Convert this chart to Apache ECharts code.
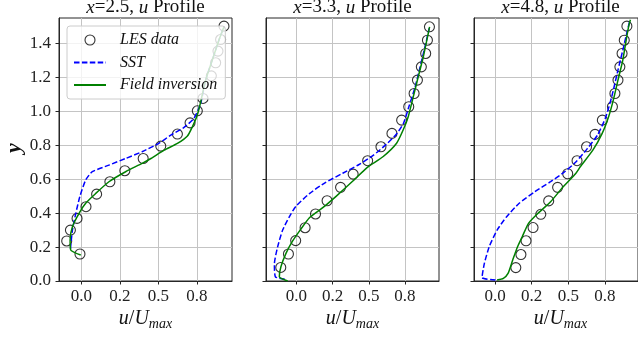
<!DOCTYPE html>
<html><head><meta charset="utf-8">
<script src="https://cdn.jsdelivr.net/npm/echarts@6/dist/echarts.min.js"></script>
<style>html,body{margin:0;padding:0;background:#fff}#c{width:638px;height:341px}</style>
</head><body><div id="c"></div><script>
// ---- tick labels / titles ----
const panelTitles = ['2.5', '3.3', '4.8'];
const xTickValues = [0, 0.25, 0.5, 0.75];
const xTickLabels = ['0.0', '0.2', '0.5', '0.8'];
const yTickValues = [0, 0.2, 0.4, 0.6, 0.8, 1.0, 1.2, 1.4];
const yTickLabels = ['0.0', '0.2', '0.4', '0.6', '0.8', '1.0', '1.2', '1.4'];
const seriesNames = ['LES data', 'SST', 'Field inversion'];

// ---- panel 1 : x = 2.5 ----
const les1X = [0.925, 0.903, 0.886, 0.871, 0.843, 0.789, 0.752, 0.705, 0.623, 0.515, 0.401, 0.282, 0.185, 0.099, 0.030, -0.028, -0.071, -0.095, -0.009];
const les1Y = [1.502, 1.423, 1.355, 1.286, 1.209, 1.076, 1.003, 0.932, 0.866, 0.795, 0.722, 0.650, 0.585, 0.512, 0.438, 0.369, 0.300, 0.236, 0.159];
const sst1X = [-0.070, -0.069, -0.058, -0.036, -0.010, 0.028, 0.071, 0.179, 0.287, 0.394, 0.502, 0.580, 0.666, 0.731, 0.774, 0.806, 0.849, 0.892, 0.925];
const sst1Y = [0.190, 0.206, 0.300, 0.399, 0.497, 0.595, 0.644, 0.683, 0.722, 0.762, 0.811, 0.860, 0.905, 0.960, 1.047, 1.184, 1.302, 1.419, 1.498];
const fi1X = [-0.004, -0.069, -0.073, -0.058, -0.015, 0.028, 0.093, 0.179, 0.287, 0.394, 0.451, 0.537, 0.623, 0.688, 0.720, 0.752, 0.774, 0.806, 0.849, 0.892, 0.925];
const fi1Y = [0.153, 0.183, 0.241, 0.320, 0.399, 0.458, 0.516, 0.585, 0.644, 0.693, 0.722, 0.771, 0.811, 0.855, 0.909, 0.978, 1.056, 1.184, 1.302, 1.419, 1.498];

// ---- panel 2 : x = 3.3 ----
const les2X = [0.919, 0.905, 0.893, 0.863, 0.836, 0.813, 0.776, 0.727, 0.660, 0.584, 0.492, 0.392, 0.305, 0.212, 0.132, 0.060, -0.005, -0.055, -0.108];
const les2Y = [1.498, 1.419, 1.341, 1.262, 1.184, 1.105, 1.027, 0.948, 0.870, 0.791, 0.709, 0.630, 0.552, 0.473, 0.395, 0.314, 0.238, 0.159, 0.080];
const sst2X = [-0.080, -0.145, -0.152, -0.130, -0.095, -0.048, -0.003, 0.090, 0.200, 0.320, 0.430, 0.530, 0.620, 0.690, 0.740, 0.778, 0.819, 0.854, 0.888, 0.918];
const sst2Y = [0.010, 0.025, 0.100, 0.200, 0.300, 0.380, 0.440, 0.515, 0.580, 0.635, 0.685, 0.740, 0.805, 0.865, 0.930, 1.030, 1.140, 1.260, 1.380, 1.490];
const fi2X = [-0.060, -0.118, -0.107, -0.072, -0.026, 0.021, 0.090, 0.182, 0.274, 0.390, 0.490, 0.600, 0.692, 0.738, 0.773, 0.808, 0.842, 0.877, 0.911, 0.920];
const fi2Y = [0.000, 0.025, 0.084, 0.163, 0.236, 0.294, 0.373, 0.432, 0.499, 0.589, 0.670, 0.734, 0.812, 0.891, 0.970, 1.088, 1.205, 1.323, 1.460, 1.498];

// ---- panel 3 : x = 4.8 ----
const les3X = [0.901, 0.883, 0.868, 0.853, 0.840, 0.819, 0.802, 0.733, 0.683, 0.625, 0.560, 0.496, 0.427, 0.366, 0.312, 0.259, 0.211, 0.176, 0.141];
const les3Y = [1.502, 1.419, 1.341, 1.262, 1.184, 1.105, 1.027, 0.948, 0.864, 0.791, 0.709, 0.632, 0.552, 0.472, 0.393, 0.315, 0.237, 0.156, 0.079];
const sst3X = [0.002, -0.090, -0.074, -0.041, 0.013, 0.078, 0.164, 0.271, 0.379, 0.470, 0.550, 0.630, 0.700, 0.754, 0.797, 0.840, 0.873, 0.905, 0.920];
const sst3Y = [0.006, 0.020, 0.104, 0.202, 0.300, 0.379, 0.458, 0.526, 0.585, 0.640, 0.700, 0.780, 0.860, 0.960, 1.085, 1.243, 1.360, 1.478, 1.530];
const fi3X = [0.013, 0.056, 0.088, 0.120, 0.153, 0.185, 0.228, 0.293, 0.379, 0.465, 0.551, 0.582, 0.668, 0.732, 0.776, 0.808, 0.840, 0.873, 0.900, 0.915, 0.925];
const fi3Y = [0.006, 0.016, 0.045, 0.124, 0.202, 0.261, 0.340, 0.399, 0.467, 0.555, 0.634, 0.673, 0.771, 0.870, 0.968, 1.066, 1.184, 1.302, 1.439, 1.508, 1.540];

// ---- axis ranges ----
const xMins = [-0.145, -0.21, -0.145];
const xMaxs = [0.977, 0.985, 0.977];
const yMin = 0, yMax = 1.55;

const panels = [
  {les: [les1X, les1Y], sst: [sst1X, sst1Y], fi: [fi1X, fi1Y]},
  {les: [les2X, les2Y], sst: [sst2X, sst2Y], fi: [fi2X, fi2Y]},
  {les: [les3X, les3Y], sst: [sst3X, sst3Y], fi: [fi3X, fi3Y]}
];
const pair = (xs, ys) => xs.map((x, k) => [x, ys[k]]);

const FONT = 'Liberation Serif';
const gridLefts = [59, 266, 474];
const gridW = 173, gridTop = 18, gridH = 263;

const grids = [], xAxes = [], yAxes = [], series = [], graphics = [];
gridLefts.forEach((L, i) => {
  grids.push({left: L, top: gridTop, width: gridW, height: gridH, show: true,
    borderColor: '#262626', borderWidth: 1, backgroundColor: 'transparent'});
  xAxes.push({type: 'value', gridIndex: i, min: xMins[i], max: xMaxs[i],
    axisLine: {show: true, onZero: false, lineStyle: {color: '#262626', width: 1}},
    axisTick: {show: true, length: 3.5, customValues: xTickValues, lineStyle: {color: '#262626'}},
    axisLabel: {customValues: xTickValues, margin: 7, fontFamily: FONT, fontSize: 17, color: '#222',
      formatter: v => { const k = xTickValues.findIndex(t => Math.abs(t - v) < 1e-6); return k >= 0 ? xTickLabels[k] : ''; }},
    splitLine: {show: true, lineStyle: {color: '#c4c4c4', width: 1}}
  });
  yAxes.push({type: 'value', gridIndex: i, min: yMin, max: yMax,
    axisLine: {show: true, onZero: false, lineStyle: {color: '#262626', width: 1}},
    axisTick: {show: true, length: 3.5, customValues: yTickValues, lineStyle: {color: '#262626'}},
    axisLabel: {show: i === 0, customValues: yTickValues, margin: 8, fontFamily: FONT, fontSize: 17, color: '#222',
      formatter: v => { const k = yTickValues.findIndex(t => Math.abs(t - v) < 1e-6); return k >= 0 ? yTickLabels[k] : ''; }},
    splitLine: {show: true, lineStyle: {color: '#c4c4c4', width: 1}}
  });
  const p = panels[i];
  series.push({name: seriesNames[0], type: 'scatter', xAxisIndex: i, yAxisIndex: i,
    data: pair(p.les[0], p.les[1]), symbol: 'circle', symbolSize: 10,
    itemStyle: {color: 'rgba(0,0,0,0)', borderColor: '#000', borderWidth: 1.1}, z: 3});
  series.push({name: seriesNames[1], type: 'line', xAxisIndex: i, yAxisIndex: i,
    data: pair(p.sst[0], p.sst[1]), symbol: 'none', showSymbol: false, smooth: 0.2,
    lineStyle: {color: '#0000ff', width: 1.5, type: [5.5, 2.4]}, itemStyle: {color: '#0000ff'}, z: 4});
  series.push({name: seriesNames[2], type: 'line', xAxisIndex: i, yAxisIndex: i,
    data: pair(p.fi[0], p.fi[1]), symbol: 'none', showSymbol: false, smooth: 0.2,
    lineStyle: {color: '#008000', width: 1.5}, itemStyle: {color: '#008000'}, z: 5});

  const cx = L + gridW / 2;
  graphics.push({type: 'text', x: cx, y: 17, style: {
    text: '{i|x}{n|=' + panelTitles[i] + ', }{i|u}{n| Profile}',
    align: 'center', verticalAlign: 'bottom',
    rich: {i: {fontFamily: FONT, fontStyle: 'italic', fontSize: 19, fill: '#111'},
           n: {fontFamily: FONT, fontSize: 19, fill: '#111'}}
  }});
  graphics.push({type: 'text', x: cx, y: 331, style: {
    text: '{i|u}{n|/}{i|U}{s|max}',
    align: 'center', verticalAlign: 'bottom',
    rich: {i: {fontFamily: FONT, fontStyle: 'italic', fontSize: 20, fill: '#111', padding: [0, 0, 2, 0]},
           n: {fontFamily: FONT, fontSize: 20, fill: '#111', padding: [0, 0, 2, 0]},
           s: {fontFamily: FONT, fontStyle: 'italic', fontSize: 14, fill: '#111', verticalAlign: 'bottom'}}
  }});
});
graphics.push({type: 'text', x: 14, y: 148, rotation: Math.PI / 2, style: {
  text: 'y', align: 'center', verticalAlign: 'middle',
  fontFamily: FONT, fontWeight: 'bold', fontStyle: 'italic', fontSize: 22, fill: '#111'}});

const noMarker = {color: 'rgba(0,0,0,0)', borderColor: 'rgba(0,0,0,0)', borderWidth: 0};
const chart = echarts.init(document.getElementById('c'), null, {renderer: 'canvas'});
chart.setOption({
  animation: false,
  backgroundColor: '#fff',
  grid: grids, xAxis: xAxes, yAxis: yAxes, series: series,
  legend: {
    orient: 'vertical', left: 67, top: 26, padding: [6, 8, 6, 6],
    backgroundColor: 'rgba(255,255,255,0.8)', borderColor: '#cccccc', borderWidth: 1, borderRadius: 3,
    itemWidth: 32, itemHeight: 10, itemGap: 6.5,
    formatter: n => '{t|' + n + '}',
    textStyle: {rich: {t: {fontFamily: FONT, fontStyle: 'italic', fontSize: 16, color: '#111', padding: [0, 0, 0, 9]}}},
    data: [{name: 'LES data', icon: 'circle', itemStyle: {color: 'rgba(0,0,0,0)', borderColor: '#000', borderWidth: 1.1}},
           {name: 'SST', itemStyle: noMarker}, {name: 'Field inversion', itemStyle: noMarker}],
    z: 10
  },
  graphic: graphics
});
</script></body></html>
